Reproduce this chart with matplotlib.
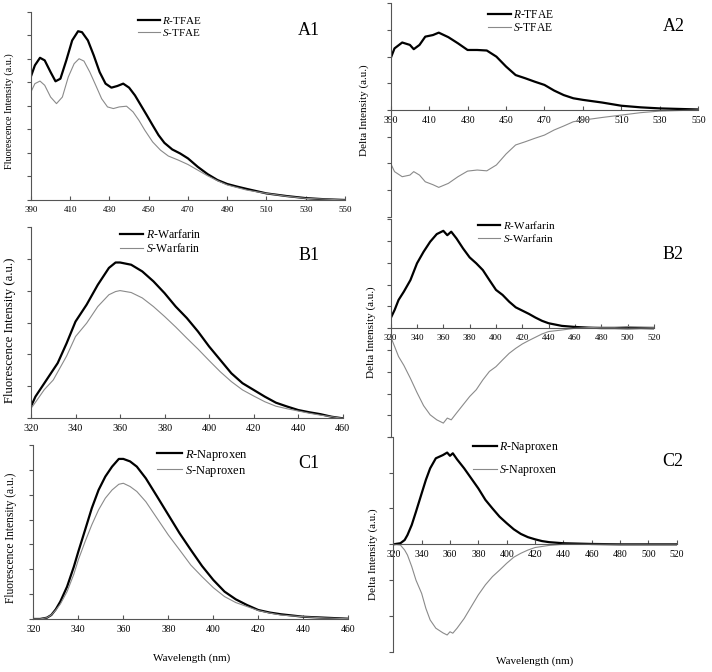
import numpy as np
import matplotlib.pyplot as plt

plt.rcParams['font.family'] = ['Liberation Serif', 'DejaVu Serif']
plt.rcParams['mathtext.fontset'] = 'custom'
plt.rcParams['mathtext.it'] = 'Liberation Serif:italic'
plt.rcParams['mathtext.rm'] = 'Liberation Serif'

# ---- A: TFAE ----
a1_x_r = [390, 392, 394.6, 397, 400, 402.5, 405, 408, 411, 414, 416, 419, 422, 425,
          428, 431, 434, 437, 440, 443, 446, 449, 452, 455, 458, 462, 466, 470, 475,
          480, 485, 490, 495, 500, 510, 520, 530, 540, 550]
a1_r = [526, 573, 605, 594, 544, 505, 516, 594, 679, 718, 714, 679, 615, 544,
        495, 478, 485, 495, 478, 445, 403, 361, 318, 276, 243, 215, 198, 177, 141,
        110, 85, 68, 57, 47, 28, 17, 8, 3, 0]
a1_x_s = [390, 392, 394.6, 397, 400, 403, 406, 409, 412, 414.5, 417, 420, 423, 426,
          429, 432, 435, 438.7, 442, 445, 448, 452, 456, 460, 465, 470, 475, 480,
          485, 490, 500, 510, 520, 530, 550]
a1_s = [460, 495, 506, 488, 438, 410, 438, 523, 580, 601, 591, 544, 488, 431,
        396, 389, 396, 399, 375, 339, 297, 247, 212, 187, 170, 151, 127, 103,
        82, 64, 42, 28, 16, 7, 0]

a2_x = [390, 392, 396, 400, 402, 405, 408, 412, 415, 420, 425, 430, 435, 440, 445,
        450, 455, 460, 465, 470, 475, 480, 485, 490, 500, 510, 520, 530, 540, 550]
a2_r = [1.94, 2.31, 2.53, 2.44, 2.28, 2.44, 2.75, 2.81, 2.9, 2.73, 2.5, 2.25, 2.25,
        2.23, 2.0, 1.63, 1.31, 1.19, 1.06, 0.94, 0.73, 0.56, 0.44, 0.38, 0.28,
        0.16, 0.1, 0.06, 0.04, 0.02]
a2_s = [-2.0, -2.31, -2.5, -2.44, -2.31, -2.44, -2.69, -2.8, -2.9, -2.75, -2.5,
        -2.29, -2.25, -2.28, -2.06, -1.65, -1.31, -1.19, -1.06, -0.94, -0.75,
        -0.6, -0.44, -0.38, -0.28, -0.19, -0.1, -0.04, -0.02, 0.0]

# ---- B: Warfarin ----
b1_x = [320, 322, 326, 330, 332, 336, 340, 345, 350, 355, 358, 360, 365, 370, 375,
        380, 385, 390, 395, 400, 405, 410, 415, 420, 425, 430, 435, 440, 445, 450,
        455, 460]
b1_r = [0.37, 0.68, 1.1, 1.52, 1.73, 2.35, 3.03, 3.56, 4.18, 4.71, 4.88, 4.88,
        4.81, 4.6, 4.29, 3.92, 3.5, 3.14, 2.72, 2.25, 1.83, 1.41, 1.1, 0.89, 0.68,
        0.49, 0.37, 0.26, 0.19, 0.13, 0.05, 0.0]
b1_s = [0.31, 0.5, 0.9, 1.2, 1.45, 1.95, 2.56, 2.98, 3.5, 3.87, 3.97, 4.0, 3.94,
        3.77, 3.5, 3.19, 2.86, 2.51, 2.17, 1.81, 1.46, 1.15, 0.89, 0.7, 0.52,
        0.38, 0.3, 0.23, 0.16, 0.1, 0.05, 0.0]

b2_x = [320, 323, 326, 330, 335, 340, 345, 350, 355, 360, 363, 366, 370, 375, 380,
        385, 390, 395, 400, 405, 410, 415, 420, 425, 430, 435, 440, 450, 460, 470,
        480, 490, 500, 510, 520]
b2_r = [0.46, 0.84, 1.3, 1.68, 2.21, 2.98, 3.51, 3.97, 4.32, 4.47, 4.27, 4.43,
        4.12, 3.66, 3.25, 2.98, 2.67, 2.21, 1.76, 1.53, 1.22, 0.96, 0.81, 0.66,
        0.49, 0.34, 0.23, 0.11, 0.06, 0.03, 0.01, 0.01, 0.0, 0.01, 0.0]
b2_s = [-0.38, -0.84, -1.3, -1.7, -2.3, -2.95, -3.55, -3.97, -4.2, -4.35, -4.12,
        -4.2, -3.89, -3.51, -3.13, -2.82, -2.37, -1.98, -1.76, -1.45, -1.15,
        -0.92, -0.72, -0.56, -0.41, -0.26, -0.15, -0.08, 0.0, 0.03, 0.05, 0.05,
        0.08, 0.06, 0.05]

# ---- C: Naproxen ----
c1_x = [320, 323, 326, 328, 330, 332, 335, 338, 340, 343, 346, 349, 352, 355, 358,
        360, 363, 366, 370, 375, 380, 385, 390, 395, 400, 405, 410, 415, 420, 425,
        430, 440, 450, 460]
c1_r = [0, 0, 0.05, 0.16, 0.39, 0.7, 1.3, 2.1, 2.71, 3.58, 4.46, 5.19, 5.73, 6.13,
        6.44, 6.44, 6.34, 6.13, 5.66, 4.93, 4.19, 3.45, 2.78, 2.13, 1.57, 1.1,
        0.79, 0.56, 0.36, 0.26, 0.19, 0.09, 0.05, 0.01]
c1_s = [0, 0, 0.05, 0.16, 0.36, 0.6, 1.1, 1.8, 2.38, 3.11, 3.79, 4.39, 4.86, 5.19,
        5.42, 5.46, 5.33, 5.13, 4.72, 4.05, 3.38, 2.78, 2.17, 1.7, 1.26, 0.9,
        0.66, 0.5, 0.34, 0.24, 0.16, 0.09, 0.04, 0.01]

c2_x = [320, 325, 328, 330, 333, 336, 340, 343, 346, 350, 355, 358, 360, 362, 365,
        370, 375, 380, 385, 390, 395, 400, 405, 410, 415, 420, 425, 430, 440, 460,
        480, 520]
c2_r = [0, 0.03, 0.12, 0.26, 0.54, 0.91, 1.42, 1.8, 2.12, 2.4, 2.49, 2.56, 2.47,
        2.54, 2.37, 2.12, 1.84, 1.56, 1.24, 1.0, 0.77, 0.59, 0.42, 0.29, 0.2,
        0.14, 0.09, 0.06, 0.03, 0.01, 0.0, 0.0]
c2_s = [0, -0.02, -0.16, -0.3, -0.62, -1.0, -1.37, -1.79, -2.11, -2.34, -2.47,
        -2.53, -2.44, -2.48, -2.34, -2.07, -1.74, -1.41, -1.13, -0.9, -0.72,
        -0.53, -0.36, -0.25, -0.16, -0.09, -0.06, -0.03, 0.0, 0.0, 0.0, 0.0]

axis_col = '#555555'
s_col = '#8a8a8a'


def style(ax, xlim, xticks, ylim, yticks, delta, tick_fs=7):
    ax.set_xlim(xlim)
    ax.set_ylim(ylim)
    ax.set_xticks(xticks)
    ax.set_yticks(yticks)
    ax.set_yticklabels([])
    for s in ['top', 'right']:
        ax.spines[s].set_visible(False)
    for s in ['left', 'bottom']:
        ax.spines[s].set_color(axis_col)
        ax.spines[s].set_linewidth(0.8)
    if delta:
        ax.spines['bottom'].set_position(('data', 0))
    ax.tick_params(axis='y', direction='out', length=3, color=axis_col, width=0.8)
    ax.tick_params(axis='x', direction='in', length=3, color=axis_col, width=0.8,
                   labelsize=tick_fs, pad=4)


def legend(ax, name, x, y, fs=8, spacing=0.1):
    ax.legend(['$\\it{R}$-' + name, '$\\it{S}$-' + name], loc='upper left',
              bbox_to_anchor=(x, y), frameon=False, fontsize=fs, handlelength=2.0,
              handletextpad=0.2, borderaxespad=0, borderpad=0, labelspacing=spacing)


fig = plt.figure(figsize=(7.12, 6.72), dpi=100)

# A1
ax = fig.add_axes([0.0435, 0.7024, 0.441, 0.2798])
ax.plot(a1_x_r, a1_r, color='black', lw=1.6)
ax.plot(a1_x_s, a1_s, color=s_col, lw=0.8)
style(ax, (390, 550), range(390, 551, 20), (0, 800), range(0, 801, 100), False, 6.5)
legend(ax, 'TFAE', 0.34, 0.985)
ax.text(0.885, 0.9, 'A1', transform=ax.transAxes, fontsize=13, ha='center', va='center')
ax.set_ylabel('Fluorescence Intensity (a.u.)', fontsize=7.3)
ax.yaxis.set_label_coords(-0.054, 0.47)

# A2
ax = fig.add_axes([0.5487, 0.6775, 0.432, 0.3176])
ax.plot(a2_x, a2_r, color='black', lw=1.6)
ax.plot(a2_x, a2_s, color=s_col, lw=0.8)
style(ax, (390, 550), range(390, 551, 20), (-4, 4), range(-4, 5), True)
legend(ax, 'TFAE', 0.316, 0.975, fs=8.3)
ax.text(0.921, 0.89, 'A2', transform=ax.transAxes, fontsize=13, ha='center', va='center')
ax.set_ylabel('Delta Intensity (a.u.)', fontsize=8)
ax.yaxis.set_label_coords(-0.07, 0.5)

# B1
ax = fig.add_axes([0.0435, 0.3775, 0.4378, 0.2851])
ax.plot(b1_x, b1_r, color='black', lw=1.6)
ax.plot(b1_x, b1_s, color=s_col, lw=0.8)
style(ax, (320, 460), range(320, 461, 20), (0, 6), range(0, 7), False, 7.3)
legend(ax, 'Warfarin', 0.285, 0.995, fs=8.5)
ax.text(0.892, 0.852, 'B1', transform=ax.transAxes, fontsize=13, ha='center', va='center')
ax.set_ylabel('Fluorescence Intensity (a.u.)', fontsize=9.2)
ax.yaxis.set_label_coords(-0.048, 0.46)

# B2
ax = fig.add_axes([0.5487, 0.3493, 0.3698, 0.3244])
ax.plot(b2_x, b2_r, color='black', lw=1.6)
ax.plot(b2_x, b2_s, color=s_col, lw=0.8)
style(ax, (320, 520), range(320, 521, 20), (-5, 5), range(-5, 6), True, 6.5)
legend(ax, 'Warfarin', 0.332, 1.0)
ax.text(1.072, 0.84, 'B2', transform=ax.transAxes, fontsize=13, ha='center', va='center')
ax.set_ylabel('Delta Intensity (a.u.)', fontsize=8)
ax.yaxis.set_label_coords(-0.056, 0.48)

# C1
ax = fig.add_axes([0.0468, 0.0789, 0.4424, 0.2589])
ax.plot(c1_x, c1_r, color='black', lw=1.6)
ax.plot(c1_x, c1_s, color=s_col, lw=0.8)
style(ax, (320, 460), range(320, 461, 20), (0, 7), range(0, 8), False)
legend(ax, 'Naproxen', 0.393, 0.985, fs=9)
ax.text(0.875, 0.895, 'C1', transform=ax.transAxes, fontsize=13, ha='center', va='center')
ax.set_ylabel('Fluorescence Intensity (a.u.)', fontsize=8.3)
ax.yaxis.set_label_coords(-0.052, 0.466)
ax.set_xlabel('Wavelength (nm)', fontsize=8)
ax.xaxis.set_label_coords(0.503, -0.2)

# C2
ax = fig.add_axes([0.5524, 0.030, 0.398, 0.32])
ax.plot(c2_x, c2_r, color='black', lw=1.6)
ax.plot(c2_x, c2_s, color=s_col, lw=0.8)
style(ax, (320, 520), range(320, 521, 20), (-3, 3), range(-3, 4), True)
legend(ax, 'Naproxen', 0.282, 0.985, fs=8.6, spacing=0.7)
ax.text(0.987, 0.884, 'C2', transform=ax.transAxes, fontsize=13, ha='center', va='center')
ax.set_ylabel('Delta Intensity (a.u.)', fontsize=8)
ax.yaxis.set_label_coords(-0.054, 0.455)
fig.text(535 / 712, 1 - 661 / 672, 'Wavelength (nm)', fontsize=8, ha='center', va='center')

fig.savefig('out.png', dpi=100)
